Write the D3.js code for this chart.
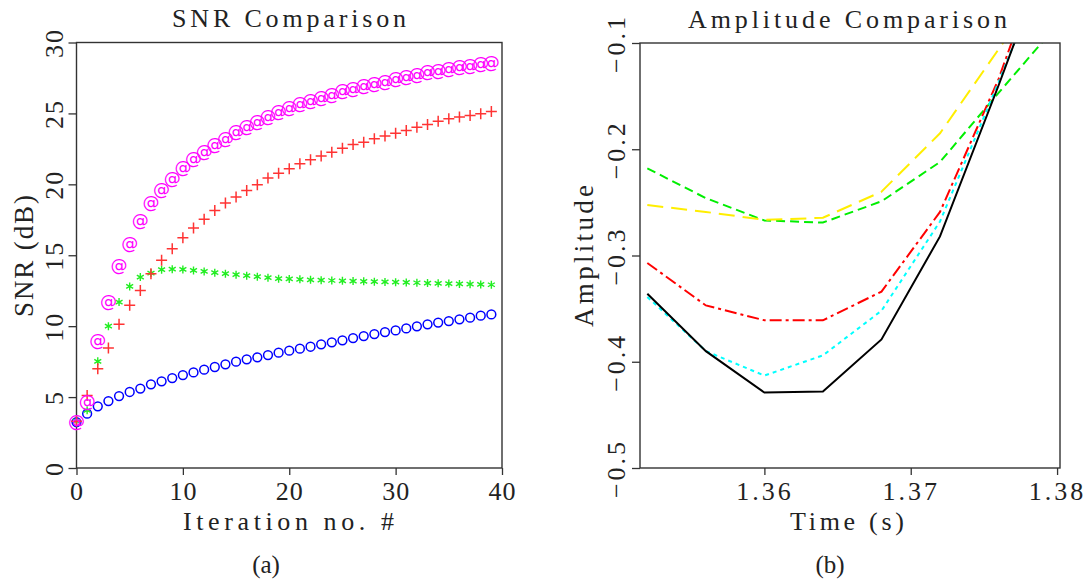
<!DOCTYPE html>
<html>
<head>
<meta charset="utf-8">
<script src="https://cdn.jsdelivr.net/npm/d3@7"></script>
<style>
  body { margin: 0; background: #fff; }
  text { font-family: "Liberation Serif", "DejaVu Serif", serif; fill: #222; }
</style>
</head>
<body>
<svg id="chart" width="1091" height="582"></svg>
<script>
// left panel: SNR per iteration (iterations 0..39)
const snrMagenta = [3.29, 4.72, 9.0, 11.8, 14.33, 15.88, 17.46, 18.72, 19.66, 20.46,
  21.21, 21.83, 22.37, 22.86, 23.3, 23.73, 24.13, 24.5, 24.8, 25.14,
  25.44, 25.7, 25.94, 26.15, 26.38, 26.62, 26.8, 26.97, 27.16, 27.32,
  27.48, 27.63, 27.79, 27.96, 28.08, 28.19, 28.31, 28.43, 28.54, 28.64];
const snrRed = [3.3, 5.12, 7.0, 8.46, 10.13, 11.47, 12.52, 13.7, 14.64, 15.46,
  16.24, 16.92, 17.53, 18.16, 18.68, 19.1, 19.57, 19.97, 20.44, 20.79,
  21.1, 21.45, 21.73, 21.99, 22.27, 22.55, 22.81, 22.97, 23.21, 23.4,
  23.61, 23.8, 24.03, 24.22, 24.45, 24.62, 24.74, 24.86, 24.98, 25.14];
const snrGreen = [3.3, 4.07, 7.52, 10.0, 11.7, 12.8, 13.46, 13.74, 13.98, 14.02,
  14.0, 13.93, 13.86, 13.77, 13.7, 13.63, 13.56, 13.49, 13.42, 13.35,
  13.33, 13.3, 13.27, 13.24, 13.22, 13.2, 13.18, 13.16, 13.14, 13.12,
  13.1, 13.08, 13.06, 13.04, 13.02, 13.0, 12.98, 12.96, 12.94, 12.92];
const snrBlue = [3.24, 3.83, 4.35, 4.72, 5.07, 5.36, 5.6, 5.9, 6.11, 6.34,
  6.55, 6.74, 6.93, 7.12, 7.31, 7.5, 7.66, 7.8, 7.96, 8.13,
  8.27, 8.41, 8.55, 8.72, 8.86, 9.0, 9.16, 9.3, 9.44, 9.58,
  9.7, 9.84, 9.99, 10.13, 10.25, 10.36, 10.48, 10.6, 10.74, 10.83];
const snrXTicks = [0, 10, 20, 30, 40];
const snrYTicks = [0, 5, 10, 15, 20, 25, 30];

// right panel: amplitude vs time
const times = [1.352, 1.356, 1.360, 1.364, 1.368, 1.372, 1.376, 1.380];
const ampBlack = [-0.336, -0.390, -0.429, -0.428, -0.379, -0.282, -0.140, 0.008];
const ampCyan = [-0.339, -0.390, -0.413, -0.394, -0.352, -0.268, -0.137, 0.0];
const ampRed = [-0.307, -0.347, -0.361, -0.361, -0.334, -0.259, -0.134, 0.02];
const ampYellow = [-0.2525, -0.259, -0.2665, -0.2645, -0.240, -0.185, -0.106, -0.027];
const ampGreen = [-0.218, -0.246, -0.267, -0.269, -0.249, -0.212, -0.147, -0.083];
const timeTicks = [1.36, 1.37, 1.38];
const ampTicks = [-0.5, -0.4, -0.3, -0.2, -0.1];

const serif = '"Liberation Serif", "DejaVu Serif", serif';
const svg = d3.select("#chart");

const styleAxis = (g, labelFn) => {
  g.attr("font-family", null);
  g.select(".domain").remove();
  g.selectAll(".tick line").attr("stroke", "#333").attr("stroke-width", 1.3);
  g.selectAll(".tick text")
    .attr("fill", "#222")
    .style("font-family", serif)
    .style("font-size", "26px");
  labelFn(g.selectAll(".tick text"));
};

// ---------- left: SNR Comparison ----------
const xL = d3.scaleLinear().domain([0, 40]).range([76.5, 502]);
const yL = d3.scaleLinear().domain([0, 30]).range([468, 42.5]);

svg.append("g")
    .attr("transform", "translate(0,468)")
    .call(d3.axisBottom(xL).tickValues(snrXTicks).tickSize(7).tickPadding(0))
    .call(g => styleAxis(g, t => t.attr("y", 32).attr("dy", 0).style("letter-spacing", "1px")));

svg.append("g")
    .attr("transform", "translate(76.5,0)")
    .call(d3.axisLeft(yL).tickValues(snrYTicks).tickSize(8))
    .call(g => styleAxis(g, t => t
      .attr("transform", "rotate(-90)")
      .attr("x", 0).attr("y", -13.5).attr("dy", 0)
      .attr("text-anchor", "middle")
      .style("letter-spacing", "2px")));

svg.append("rect")
    .attr("x", xL(0)).attr("y", yL(30))
    .attr("width", xL(40) - xL(0)).attr("height", yL(0) - yL(30))
    .attr("fill", "none").attr("stroke", "#333").attr("stroke-width", 1.4);

const markers = svg.append("g");

markers.selectAll("circle")
  .data(snrBlue)
  .join("circle")
    .attr("cx", (d, i) => xL(i))
    .attr("cy", d => yL(d))
    .attr("r", 4.4)
    .attr("fill", "none")
    .attr("stroke", "#0000ff")
    .attr("stroke-width", 1.5);

markers.selectAll("path.star")
  .data(snrGreen)
  .join("path")
    .attr("class", "star")
    .attr("transform", (d, i) => `translate(${xL(i)},${yL(d)})`)
    .attr("d", "M0,-4V4M-3.5,-2L3.5,2M-3.5,2L3.5,-2")
    .attr("stroke", "#22ee22")
    .attr("stroke-width", 1.4);

markers.selectAll("path.plus")
  .data(snrRed)
  .join("path")
    .attr("class", "plus")
    .attr("transform", (d, i) => `translate(${xL(i)},${yL(d)})`)
    .attr("d", "M-5.5,0H5.5M0,-5.5V5.5")
    .attr("stroke", "#ff3333")
    .attr("stroke-width", 1.5);

markers.selectAll("text.at")
  .data(snrMagenta)
  .join("text")
    .attr("class", "at")
    .attr("x", (d, i) => xL(i))
    .attr("y", d => yL(d) + 6)
    .attr("text-anchor", "middle")
    .style("font-family", "DejaVu Sans, sans-serif")
    .style("font-size", "17px")
    .style("fill", "#ff00ff")
    .text("@");

svg.append("text")
    .attr("x", 289).attr("y", 27)
    .attr("text-anchor", "middle")
    .attr("textLength", 234).attr("lengthAdjust", "spacing")
    .style("font-size", "26px")
    .text("SNR Comparison");

svg.append("text")
    .attr("x", 288.5).attr("y", 530)
    .attr("text-anchor", "middle")
    .attr("textLength", 211).attr("lengthAdjust", "spacing")
    .style("font-size", "26px")
    .text("Iteration no. #");

svg.append("text")
    .attr("transform", "translate(33,256) rotate(-90)")
    .attr("text-anchor", "middle")
    .attr("textLength", 122).attr("lengthAdjust", "spacing")
    .style("font-size", "27px")
    .text("SNR (dB)");

svg.append("text")
    .attr("x", 266).attr("y", 573)
    .attr("text-anchor", "middle")
    .style("font-size", "25px")
    .text("(a)");

// ---------- right: Amplitude Comparison ----------
const xR = d3.scaleLinear().domain([1.3515, 1.3802]).range([640, 1060]);
const yR = d3.scaleLinear().domain([-0.5, -0.1]).range([468, 43]);

svg.append("g")
    .attr("transform", "translate(0,468)")
    .call(d3.axisBottom(xR).tickValues(timeTicks).tickFormat(d3.format(".2f")).tickSize(7))
    .call(g => styleAxis(g, t => t.attr("y", 32).attr("dy", 0).style("letter-spacing", "3px")));

svg.append("g")
    .attr("transform", "translate(640,0)")
    .call(d3.axisLeft(yR).tickValues(ampTicks).tickFormat(d3.format(".1f")).tickSize(8))
    .call(g => styleAxis(g, t => t
      .attr("transform", "rotate(-90)")
      .attr("x", 0).attr("y", -15).attr("dy", 0)
      .attr("text-anchor", "middle")
      .style("letter-spacing", "3px")));

svg.append("clipPath").attr("id", "clipR")
  .append("rect")
    .attr("x", xR.range()[0]).attr("y", yR(-0.1))
    .attr("width", xR.range()[1] - xR.range()[0])
    .attr("height", yR(-0.5) - yR(-0.1));

const series = [
  { values: ampGreen, color: "#00ee00", dash: "9,5" },
  { values: ampYellow, color: "#ffee00", dash: "16,8" },
  { values: ampRed, color: "#ff0000", dash: "12,4,3,4" },
  { values: ampCyan, color: "#00ffff", dash: "4,4" },
  { values: ampBlack, color: "#000000", dash: null }
];

const line = d3.line()
  .x((d, i) => xR(times[i]))
  .y(d => yR(d));

svg.append("g")
    .attr("clip-path", "url(#clipR)")
  .selectAll("path")
  .data(series)
  .join("path")
    .attr("d", d => line(d.values))
    .attr("fill", "none")
    .attr("stroke", d => d.color)
    .attr("stroke-width", 2)
    .attr("stroke-dasharray", d => d.dash);

svg.append("rect")
    .attr("x", 640).attr("y", 43)
    .attr("width", 420).attr("height", 425)
    .attr("fill", "none").attr("stroke", "#333").attr("stroke-width", 1.4);

svg.append("text")
    .attr("x", 847.5).attr("y", 28)
    .attr("text-anchor", "middle")
    .attr("textLength", 319).attr("lengthAdjust", "spacing")
    .style("font-size", "26px")
    .text("Amplitude Comparison");

svg.append("text")
    .attr("x", 847).attr("y", 530)
    .attr("text-anchor", "middle")
    .attr("textLength", 114).attr("lengthAdjust", "spacing")
    .style("font-size", "26px")
    .text("Time (s)");

svg.append("text")
    .attr("transform", "translate(593,256) rotate(-90)")
    .attr("text-anchor", "middle")
    .attr("textLength", 142).attr("lengthAdjust", "spacing")
    .style("font-size", "27px")
    .text("Amplitude");

svg.append("text")
    .attr("x", 830).attr("y", 573)
    .attr("text-anchor", "middle")
    .style("font-size", "25px")
    .text("(b)");
</script>
</body>
</html>
